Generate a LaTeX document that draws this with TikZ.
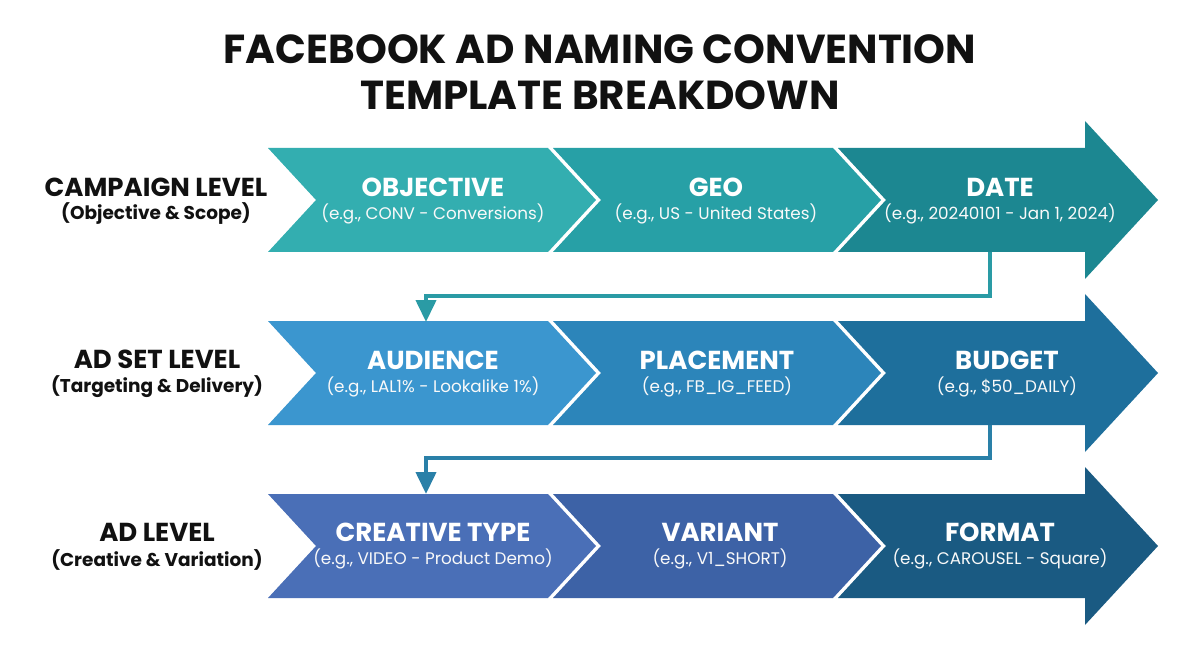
\documentclass[tikz,border=0pt]{standalone}
\usepackage{fontspec}
\setmainfont{Poppins}
\usetikzlibrary{arrows.meta}
\definecolor{ra}{HTML}{33AEB0}
\definecolor{rb}{HTML}{27A0A6}
\definecolor{rc}{HTML}{1C8791}
\definecolor{sa}{HTML}{3B96CF}
\definecolor{sb}{HTML}{2C85BA}
\definecolor{sc}{HTML}{1E6F9C}
\definecolor{ta}{HTML}{4A6FB7}
\definecolor{tb}{HTML}{3D62A6}
\definecolor{tc}{HTML}{1A5A82}
\definecolor{conA}{HTML}{2A9BA5}
\definecolor{conB}{HTML}{2A80A8}
\definecolor{ink}{HTML}{111111}
\tikzset{
  titletext/.style={font=\fontsize{40.5}{46}\selectfont\bfseries, text=ink, align=center},
  lvltext/.style={font=\fontsize{26}{30}\selectfont\bfseries, text=ink, inner sep=0},
  lvlsub/.style={font=\fontsize{18.5}{22}\selectfont\bfseries, text=ink, inner sep=0},
  boxtitle/.style={font=\fontsize{26}{30}\selectfont\bfseries, text=white, inner sep=0},
  boxsub/.style={font=\fontsize{16.8}{20}\selectfont, text=white!95!gray, inner sep=0},
  conn/.style={line width=4pt, -{Triangle[width=20pt,length=22pt]}},
}
\newcommand{\chevA}[2]{% y center, color
  \fill[#2] (268,#1-52) -- (548,#1-52) -- (596,#1) -- (548,#1+52) -- (268,#1+52) -- (316,#1) -- cycle;}
\newcommand{\chevB}[2]{%
  \fill[#2] (553,#1-52) -- (833,#1-52) -- (881,#1) -- (833,#1+52) -- (553,#1+52) -- (601,#1) -- cycle;}
\newcommand{\bigarrow}[2]{%
  \fill[#2] (838,#1-52) -- (1085,#1-52) -- (1085,#1-79) -- (1158,#1) -- (1085,#1+79) -- (1085,#1+52) -- (838,#1+52) -- (886,#1) -- cycle;}
\begin{document}
\begin{tikzpicture}[x=1pt,y=-1pt]
\useasboundingbox[fill=white] (0,0) rectangle (1200,655);
% title
\node[titletext] (title) at (600,72) {FACEBOOK AD NAMING CONVENTION\\TEMPLATE BREAKDOWN};
% row 1
\chevA{200}{ra}
\chevB{200}{rb}
\bigarrow{200}{rc}
% row 2
\chevA{373}{sa}
\chevB{373}{sb}
\bigarrow{373}{sc}
% row 3
\chevA{546}{ta}
\chevB{546}{tb}
\bigarrow{546}{tc}
% level labels
\node[lvltext] (l1) at (156,187) {CAMPAIGN LEVEL};
\node[lvlsub] (l1s) at (156,214) {(Objective \& Scope)};
\node[lvltext] (l2) at (157,359) {AD SET LEVEL};
\node[lvlsub] (l2s) at (157,387) {(Targeting \& Delivery)};
\node[lvltext] (l3) at (157,532) {AD LEVEL};
\node[lvlsub] (l3s) at (157,560) {(Creative \& Variation)};
% row 1 texts
\node[boxtitle] (obj) at (433,187) {OBJECTIVE};
\node[boxsub] (objs) at (433,214) {(e.g., CONV - Conversions)};
\node[boxtitle] (geo) at (716,187) {GEO};
\node[boxsub] (geos) at (716,214) {(e.g., US - United States)};
\node[boxtitle] (date) at (1000,187) {DATE};
\node[boxsub] (dates) at (1000,214) {(e.g., 20240101 - Jan 1, 2024)};
% row 2 texts
\node[boxtitle] (aud) at (433,360) {AUDIENCE};
\node[boxsub] (auds) at (433,387) {(e.g., LAL1\% - Lookalike 1\%)};
\node[boxtitle] (plc) at (717,360) {PLACEMENT};
\node[boxsub] (plcs) at (717,387) {(e.g., FB\_IG\_FEED)};
\node[boxtitle] (bud) at (1007,360) {BUDGET};
\node[boxsub] (buds) at (1007,387) {(e.g., \$50\_DAILY)};
% row 3 texts
\node[boxtitle] (cre) at (433,532) {CREATIVE TYPE};
\node[boxsub] (cres) at (433,559) {(e.g., VIDEO - Product Demo)};
\node[boxtitle] (var) at (720,532) {VARIANT};
\node[boxsub] (vars) at (720,559) {(e.g., V1\_SHORT)};
\node[boxtitle] (fmt) at (1000,532) {FORMAT};
\node[boxsub] (fmts) at (1000,559) {(e.g., CAROUSEL - Square)};
% connectors
\coordinate (r1b) at (990,252);
\coordinate (r2t) at (426,322);
\coordinate (r2b) at (990,425);
\coordinate (r3t) at (426,494);
\draw[conn, draw=conA] (r1b) -- ++(0,44) -| (r2t);
\draw[conn, draw=conB] (r2b) -- ++(0,33) -| (r3t);
\end{tikzpicture}
\end{document}
